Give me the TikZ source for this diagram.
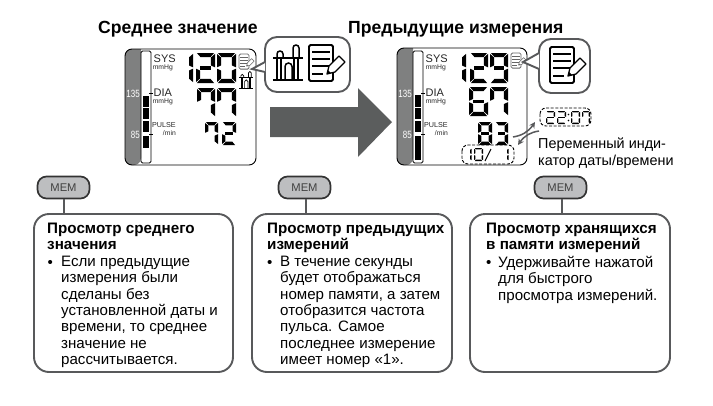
\documentclass[tikz,border=0pt]{standalone}
\usepackage{fontspec}
\setmainfont{Liberation Sans}
\usetikzlibrary{arrows.meta,bending}
\definecolor{bandgray}{HTML}{7F8080}
\definecolor{arrowgray}{HTML}{5B5D5D}
\definecolor{edgegray}{HTML}{58595B}
\definecolor{memgray}{HTML}{BDBEC0}
\tikzset{>=stealth,
    lcdframe/.style={draw=black, line width=0.9pt, rounded corners=7pt},
    callout/.style={draw=edgegray, line width=1.9pt, fill=white, rounded corners=12pt},
    calloutarm/.style={draw=edgegray, line width=1.9pt, fill=white, line join=miter},
    infobox/.style={draw=edgegray, line width=1.9pt, rounded corners=15pt},
    membutton/.style={draw=black!80, fill=memgray, line width=1.7pt, rounded corners=9pt, minimum width=52pt, minimum height=22pt, inner sep=0pt, font=\fontsize{11.2}{12}\selectfont, text=black!75},
    memstem/.style={draw=edgegray, line width=2pt},
    title/.style={font=\fontsize{17.6}{19}\selectfont\bfseries, anchor=base west, inner sep=0pt},
    bodytext/.style={font=\fontsize{15.1}{16.3}\selectfont, anchor=north west, inner sep=0pt, align=left},
    headtext/.style={font=\fontsize{15.2}{15.5}\selectfont\bfseries, anchor=north west, inner sep=0pt, align=left},
    bullet/.style={font=\fontsize{15.1}{16.3}\selectfont, anchor=base west, inner sep=0pt},
    notetext/.style={font=\fontsize{14.4}{17}\selectfont, anchor=north west, inner sep=0pt, align=left},
    lcdlabel/.style={font=\fontsize{11}{12}\selectfont, anchor=base west, inner sep=0pt, text=black!85},
    lcdsmall/.style={font=\fontsize{6.8}{8}\selectfont, anchor=base east, inner sep=0pt, text=black!85},
    scaletext/.style={font=\fontsize{10.5}{12}\selectfont, anchor=base east, inner sep=0pt, text=white},
    dashbox/.style={draw=black, line width=0.9pt, dashed, dash pattern=on 3pt off 1.6pt, rounded corners=6pt},
    swaparrow/.style={draw=edgegray, line width=1.5pt, -{Stealth[length=6pt,width=6pt]}}
}
% seven segments: x, y, width, height, stroke, list of lit segments
\newcommand{\lcdseg}[6]{%
  \begin{scope}[shift={(#1,#2)}]
    \foreach \s in {#6}{%
      \ifcase\s\relax
        \or \fill (0.9,0) -- (#3-0.9,0) -- (#3-#5-0.4,#5) -- (#5+0.4,#5) -- cycle;
        \or \fill (#3,0.9) -- (#3,0.5*#4-0.7) -- (#3-#5,0.5*#4-0.5*#5-0.5) -- (#3-#5,#5+0.4) -- cycle;
        \or \fill (#3,0.5*#4+0.7) -- (#3,#4-0.9) -- (#3-#5,#4-#5-0.4) -- (#3-#5,0.5*#4+0.5*#5+0.5) -- cycle;
        \or \fill (0.9,#4) -- (#3-0.9,#4) -- (#3-#5-0.4,#4-#5) -- (#5+0.4,#4-#5) -- cycle;
        \or \fill (0,0.5*#4+0.7) -- (0,#4-0.9) -- (#5,#4-#5-0.4) -- (#5,0.5*#4+0.5*#5+0.5) -- cycle;
        \or \fill (0,0.9) -- (0,0.5*#4-0.7) -- (#5,0.5*#4-0.5*#5-0.5) -- (#5,#5+0.4) -- cycle;
        \or \fill (#5*0.9,0.5*#4-0.42*#5) -- (#3-#5*0.9,0.5*#4-0.42*#5) -- (#3-#5*0.9,0.5*#4+0.42*#5) -- (#5*0.9,0.5*#4+0.42*#5) -- cycle;
      \fi}
  \end{scope}}
\newcommand{\noteicon}[3]{% x, y, size
  \begin{scope}[shift={(#1,#2)}, scale=#3]
    \draw[line width=#3*1.9pt, rounded corners=1.5pt] (0,0) rectangle (24,36);
    \draw[line width=#3*1.3pt] (3,7) -- (21,7) (3,14) -- (21,14) (3,21) -- (21,21) (3,29) -- (14,29);
    \draw[line width=#3*1.3pt, fill=white, line join=round] (18,29) -- (20,21) -- (30,11) -- (36,17) -- (26,27) -- cycle;
    \fill (18,29) -- (19,25) -- (22,28) -- cycle;
  \end{scope}}
\newcommand{\barsicon}[3]{% x, y, size
  \begin{scope}[shift={(#1,#2)}, scale=#3, line width=#3*1.5pt]
    \draw (0,14) -- (30,14) (0,36) -- (30,36);
    \draw (4,14) -- (4,36) (8,14) -- (8,36) (21,14) -- (21,36) (25,14) -- (25,36);
    \draw (12,36) -- (12,22.5) arc (-180:0:3.5) -- (19,36);
    \draw (4,14) -- (4,10) arc (-180:0:3) -- (10,14);
    \draw (20,14) -- (20,4) arc (-180:0:3) -- (26,14);
  \end{scope}}
\begin{document}
\begin{tikzpicture}[x=1pt,y=-1pt]
    \useasboundingbox (0,0) rectangle (713,405);
    % titles
    \node[title] (titleavg) at (98,33) {Среднее значение};
    \node[title] (titleprev) at (348,33) {Предыдущие измерения};
    % big arrow
    \fill[arrowgray] (270,107) -- (358,107) -- (358,88) -- (392,122) -- (358,157) -- (358,137) -- (270,137) -- cycle;
    % left display
    \fill[bandgray] (141,49) [rounded corners=7pt] -- (125,49) -- (125,165) -- (141,165) [sharp corners] -- cycle;
    \draw[lcdframe] (125,49) rectangle (256,165);
    \draw[line width=0.8pt, rounded corners=1.5pt] (141,51) rectangle (151,163);
    \foreach \ytop/\ybot in {96/107, 108/119, 121/132, 136/148}
        \fill (143,\ytop) rectangle (149,\ybot);
    \draw[line width=0.8pt] (149,93) -- (153,93) (149,134) -- (153,134);
    \node[scaletext] (lefthigh) at (140,97) {\scalebox{0.76}[1]{135}};
    \node[scaletext] (leftlow) at (140,138) {\scalebox{0.76}[1]{85}};
    \node[lcdlabel] (leftsys) at (153.5,62) {SYS};
    \node[lcdsmall] (leftsysunit) at (173,69) {mmHg};
    \node[lcdlabel] (leftdia) at (153.5,96) {DIA};
    \node[lcdsmall] (leftdiaunit) at (173,103) {mmHg};
    \node[lcdsmall, font=\fontsize{7.2}{8}\selectfont] (leftpulse) at (176,127) {PULSE};
    \node[lcdsmall] (leftpulseunit) at (176,135) {/min};
    \lcdseg{189}{53}{4}{30}{4}{2,3}
    \lcdseg{196}{53}{19}{30}{4.2}{1,2,7,5,4}
    \lcdseg{217}{53}{19}{30}{4.2}{1,2,3,4,5,6}
    \lcdseg{197}{88}{18}{29}{4.2}{1,2,3,6}
    \lcdseg{217}{88}{19}{29}{4.2}{1,2,3,6}
    \lcdseg{205}{122}{13}{23}{3.4}{1,2,3,6}
    \lcdseg{222}{122}{14}{23}{3.4}{1,2,7,5,4}
    \begin{scope}[black!60]
    \noteicon{239}{54}{0.42}
    \end{scope}
    \barsicon{239}{71}{0.47}
    % left callout
    \draw[callout] (265,37) rectangle (350,92);
    \draw[calloutarm] (265,62) -- (252,69) -- (265,72);
    \barsicon{273}{44}{1.0}
    \noteicon{309}{45}{1.0}
    % right display
    \fill[bandgray] (413,48) [rounded corners=7pt] -- (397,48) -- (397,165) -- (413,165) [sharp corners] -- cycle;
    \draw[lcdframe] (397,48) rectangle (527,165);
    \draw[line width=0.8pt, rounded corners=1.5pt] (413,51) rectangle (423,163);
    \foreach \ytop/\ybot in {95/107, 108/119, 121/132, 136/160}
        \fill (415,\ytop) rectangle (421,\ybot);
    \draw[line width=0.8pt] (421,93) -- (425,93) (421,134) -- (425,134);
    \node[scaletext] (righthigh) at (412,97) {\scalebox{0.76}[1]{135}};
    \node[scaletext] (rightlow) at (412,138) {\scalebox{0.76}[1]{85}};
    \node[lcdlabel] (rightsys) at (425.5,62) {SYS};
    \node[lcdsmall] (rightsysunit) at (446,69) {mmHg};
    \node[lcdlabel] (rightdia) at (425.5,96) {DIA};
    \node[lcdsmall] (rightdiaunit) at (446,103) {mmHg};
    \node[lcdsmall, font=\fontsize{7.2}{8}\selectfont] (rightpulse) at (448,127) {PULSE};
    \node[lcdsmall] (rightpulseunit) at (448,135) {/min};
    \lcdseg{462}{53}{4}{30}{4}{2,3}
    \lcdseg{470}{53}{18}{30}{4.2}{1,2,7,5,4}
    \lcdseg{490}{53}{18}{30}{4.2}{1,2,3,4,6,7}
    \lcdseg{469}{87}{19}{29}{4.2}{1,3,4,5,6,7}
    \lcdseg{490}{87}{18}{29}{4.2}{1,2,3,6}
    \lcdseg{478}{122}{14}{23}{3.4}{1,2,3,4,5,6,7}
    \lcdseg{495}{122}{13}{23}{3.4}{1,2,3,4,7}
    \begin{scope}[black!60]
    \noteicon{511}{53}{0.42}
    \end{scope}
    % right callout
    \draw[callout] (539,39) rectangle (590,93);
    \draw[calloutarm] (539,53) -- (523,62) -- (539,69);
    \noteicon{550}{47}{1.0}
    % date and time
    \draw[dashbox] (540,108) rectangle (591,126);
    \draw[dashbox] (462,145) rectangle (514,164);
    \lcdseg{546}{111}{9}{13}{1.4}{1,2,7,5,4}
    \lcdseg{557}{111}{9}{13}{1.4}{1,2,7,5,4}
    \fill (568.5,114.5) circle (0.9) (568.5,120.5) circle (0.9);
    \lcdseg{571}{111}{9}{13}{1.4}{1,2,3,4,5,6}
    \lcdseg{582}{111}{8}{13}{1.4}{1,2,3,6}
    \lcdseg{470}{148}{1.5}{13}{1.4}{2,3}
    \lcdseg{474}{148}{9}{13}{1.4}{1,2,3,4,5,6}
    \draw[line width=1.1pt] (485,161) -- (491,149);
    \lcdseg{507}{148}{1.5}{13}{1.4}{2,3}
    \coordinate (dateout) at (513,137);
    \coordinate (timein) at (535,122);
    \coordinate (timeout) at (539,131);
    \coordinate (datein) at (518,145);
    \draw[swaparrow] (dateout) to[bend right=25] (timein);
    \draw[swaparrow] (timeout) to[bend right=25] (datein);
    \node[notetext] (altnote) at (538,138) {Переменный инди-\\катор даты/времени};
    % buttons and boxes
    \draw[infobox] (34,214) rectangle (233,372);
    \draw[infobox] (252,214) rectangle (452,372);
    \draw[infobox] (470,214) rectangle (670,372);
    \node[membutton] (memavg) at (63.5,187.5) {MEM};
    \node[membutton] (memprev) at (304.5,187.5) {MEM};
    \node[membutton] (memstore) at (560.5,187.5) {MEM};
    \coordinate (stemavg) at (64,214);
    \coordinate (stemprev) at (306,214);
    \coordinate (stemstore) at (562,214);
    \draw[memstem] (stemavg |- memavg.south) -- (stemavg);
    \draw[memstem] (stemprev |- memprev.south) -- (stemprev);
    \draw[memstem] (stemstore |- memstore.south) -- (stemstore);
    \node[headtext] (headavg) at (47,223) {Просмотр среднего\\значения};
    \node[bullet] (dotavg) at (47.5,267) {•};
    \node[bodytext] (textavg) at (61,256) {Если предыдущие\\измерения были\\сделаны без\\установленной даты и\\времени, то среднее\\значение не\\рассчитывается.};
    \node[headtext] (headprev) at (267,223) {Просмотр предыдущих\\измерений};
    \node[bullet] (dotprev) at (267,267) {•};
    \node[bodytext] (textprev) at (280,256) {В течение секунды\\будет отображаться\\номер памяти, а затем\\отобразится частота\\пульса. Самое\\последнее измерение\\имеет номер «1».};
    \node[headtext] (headstore) at (486,223) {Просмотр хранящихся\\в памяти измерений};
    \node[bullet] (dotstore) at (486,267) {•};
    \node[bodytext] (textstore) at (498,256) {Удерживайте нажатой\\для быстрого\\просмотра измерений.};
\end{tikzpicture}
\end{document}
